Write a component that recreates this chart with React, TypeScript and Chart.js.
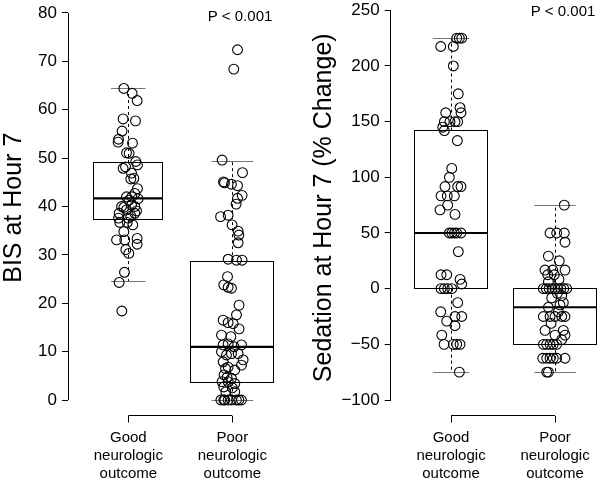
import React, { useEffect, useRef } from "react";
import { Chart, registerables } from "chart.js";
Chart.register(...registerables);

const FONT = "'Liberation Sans', Arial, Helvetica, sans-serif";

const categories = [
  ["Good", "neurologic", "outcome"],
  ["Poor", "neurologic", "outcome"],
];
const pValueText = "P < 0.001";

const bisTitle = "BIS at Hour 7";
const sedTitle = "Sedation at Hour 7 (% Change)";
const bisTicks = [0, 10, 20, 30, 40, 50, 60, 70, 80];
const sedTicks = [-100, -50, 0, 50, 100, 150, 200, 250];

// BIS, good outcome
const bisGoodValues = [64.4, 63.4, 61.9, 58.1, 57.7, 55.6, 53.9, 53.3, 53.1, 51.1, 51.0, 49.3, 48.6, 48.2, 47.9, 46.9, 45.7, 45.8, 43.7, 42.7, 42.0, 42.0, 41.6, 41.3, 40.0, 40.3, 40.0, 39.8, 38.6, 39.3, 39.1, 38.0, 37.6, 36.7, 37.6, 38.6, 36.7, 36.2, 34.8, 33.1, 33.1, 33.4, 32.2, 31.1, 30.3, 26.4, 24.3, 18.4];
const bisGoodJitter = [-0.043, 0.037, 0.085, -0.05, 0.069, -0.06, -0.094, -0.098, 0.04, -0.017, 0.008, 0.072, 0.088, -0.027, -0.05, 0.031, 0.024, 0.053, 0.088, 0.062, -0.017, 0.034, 0.094, 0.008, -0.065, 0.031, 0.062, -0.043, -0.088, -0.017, 0.079, 0.024, -0.094, -0.082, 0, 0.062, -0.01, 0.043, -0.043, -0.113, -0.034, 0.085, 0.085, -0.024, 0.005, -0.037, -0.088, -0.062];
// BIS, poor outcome
const bisPoorValues = [72.4, 68.4, 49.6, 47.0, 45.1, 44.9, 44.6, 44.3, 42.3, 41.7, 40.5, 37.9, 38.2, 36.2, 34.9, 34.1, 32.5, 29.1, 28.9, 28.9, 25.5, 23.8, 23.3, 23.1, 19.6, 17.6, 16.5, 16.0, 15.8, 14.7, 13.4, 13.1, 11.4, 11.6, 11.0, 11.4, 10.0, 9.3, 9.6, 9.6, 8.3, 7.2, 7.9, 6.5, 6.8, 6.2, 5.2, 4.7, 4.5, 3.8, 3.8, 3.4, 2.7, 2.5, 1.7, 1.7, 0, 0, 0, 0, 0, 0, 0, 0];
const bisPoorJitter = [0.05, 0.014, -0.098, 0.098, -0.085, -0.075, -0.008, 0.05, 0.094, 0.05, 0.037, -0.113, -0.04, -0.002, 0.056, 0.063, 0.056, -0.04, 0.04, 0.094, -0.046, -0.082, -0.04, -0.008, 0.065, 0.04, -0.088, -0.04, 0.008, 0.065, -0.104, -0.014, -0.088, -0.04, 0.017, 0.088, -0.104, -0.056, -0.008, 0.056, 0.104, 0.088, -0.088, -0.065, -0.04, 0.024, -0.079, -0.05, -0.008, -0.098, -0.04, 0.024, -0.082, 0, -0.062, 0.024, -0.11, -0.072, -0.04, -0.008, 0.04, 0.088, 0.063, -0.082];

// BIS box statistics [good, poor]
const bisWhiskerLow = [24.4, 0];
const bisQ1 = [37.4, 3.6];
const bisMedian = [41.7, 11.0];
const bisQ3 = [49.0, 28.7];
const bisWhiskerHigh = [64.4, 49.3];

// Sedation, good outcome
const sedGoodValues = [225, 225, 225, 217.5, 217.5, 200, 175, 162.5, 158, 158, 150, 150, 150, 150, 145, 142, 133, 108, 100, 91.7, 91.7, 91.7, 83.3, 83.3, 83.3, 75, 70.8, 66.7, 50, 50, 50, 50, 50, 33.3, 12.5, 12.5, 8.3, 4.2, 0, 0, 0, 0, -12.5, -20.8, -25, -25, -29.2, -33.3, -41.7, -50, -50, -50, -50, -75];
const sedGoodJitter = [0.055, 0.08, 0.103, -0.099, 0.022, 0.022, 0.07, 0.087, 0.096, -0.051, -0.064, -0.01, 0.038, 0.064, -0.08, -0.064, 0.061, 0.007, -0.016, -0.058, 0.064, 0.096, -0.096, -0.036, 0.032, -0.032, -0.106, 0.038, -0.016, 0.007, 0.032, 0.055, 0.096, 0.07, -0.096, -0.041, 0.087, 0.103, -0.096, -0.064, -0.032, 0.007, 0.064, -0.099, 0.038, 0.103, -0.041, 0.038, -0.089, -0.067, 0.022, 0.055, 0.087, 0.08];
// Sedation, poor outcome
const sedPoorValues = [75, 50, 50, 50, 41.7, 29.2, 25, 16.7, 16.7, 16.7, 12.5, 12.5, 8.3, 6.2, 0, 0, 0, 0, 0, 0, 0, 0, 0, -4.2, -8.3, -6.2, -12.5, -16.7, -14.6, -20.8, -25, -25, -25, -25, -25, -31.2, -37.5, -37.5, -41.7, -41.7, -45.8, -50, -50, -50, -50, -50, -62.5, -62.5, -62.5, -62.5, -62.5, -62.5, -75, -75];
const sedPoorJitter = [0.089, -0.048, 0.016, 0.089, 0.096, -0.064, 0.041, -0.096, -0.022, 0.096, -0.07, -0.007, 0.038, -0.064, -0.112, -0.084, -0.056, -0.028, 0, 0.028, 0.056, 0.084, 0.112, 0.022, -0.032, 0.064, 0.08, -0.064, 0.048, 0.032, -0.112, -0.048, 0, 0.064, 0.096, -0.038, -0.096, 0.08, 0.096, 0, 0.064, -0.112, -0.08, -0.048, -0.016, 0.016, -0.118, -0.08, -0.048, -0.016, 0.016, 0.096, -0.08, -0.064];

// Sedation box statistics [good, poor]
const sedWhiskerLow = [-75, -75];
const sedQ1 = [0, -50];
const sedMedian = [50, -16.7];
const sedQ3 = [142, 0];
const sedWhiskerHigh = [225, 75];

type Stats = { lo: number[]; q1: number[]; med: number[]; q3: number[]; hi: number[] };

type PanelCfg = {
  title: string;
  ticks: number[];
  groups: { values: number[]; jitter: number[] }[];
  stats: Stats;
  halfWidths: number[];
  yMin: number;
  yMax: number;
  xMin: number;
  xMax: number;
  axisWidth: number;
  titlePad: number;
  pPos: { x: number; y: number };
};

const crisp = (p: number) => Math.round(p - 0.5) + 0.5;

function makePlugin(cfg: PanelCfg) {
  return {
    id: "boxplotDecor",
    beforeDatasetsDraw(chart: any) {
      const { ctx, scales } = chart;
      const x = scales.x;
      const y = scales.y;
      const s = cfg.stats;
      ctx.save();
      for (let i = 0; i < 2; i++) {
        const g = i + 1;
        const cx = x.getPixelForValue(g);
        const hw = x.getPixelForValue(g + cfg.halfWidths[i]) - cx;
        const cxc = crisp(cx);
        // dashed whiskers
        ctx.strokeStyle = "#000";
        ctx.lineWidth = 1;
        ctx.setLineDash([3, 3]);
        ctx.beginPath();
        ctx.moveTo(cxc, y.getPixelForValue(s.q3[i]));
        ctx.lineTo(cxc, y.getPixelForValue(s.hi[i]));
        ctx.moveTo(cxc, y.getPixelForValue(s.q1[i]));
        ctx.lineTo(cxc, y.getPixelForValue(s.lo[i]));
        ctx.stroke();
        ctx.setLineDash([]);
        // staples
        ctx.strokeStyle = "#777";
        ctx.beginPath();
        [s.hi[i], s.lo[i]].forEach((v) => {
          const py = crisp(y.getPixelForValue(v));
          ctx.moveTo(cx - hw / 2, py);
          ctx.lineTo(cx + hw / 2, py);
        });
        ctx.stroke();
        // box
        ctx.strokeStyle = "#000";
        ctx.lineWidth = 1;
        const top = crisp(y.getPixelForValue(s.q3[i]));
        const bot = crisp(y.getPixelForValue(s.q1[i]));
        const l = crisp(cx - hw);
        const r = crisp(cx + hw);
        ctx.strokeRect(l, top, r - l, bot - top);
        // median
        ctx.lineWidth = 2.2;
        const my = y.getPixelForValue(s.med[i]);
        ctx.beginPath();
        ctx.moveTo(l, my);
        ctx.lineTo(r, my);
        ctx.stroke();
      }
      ctx.restore();
    },
    afterDraw(chart: any) {
      const { ctx, scales, chartArea } = chart;
      const x = scales.x;
      const y = scales.y;
      ctx.save();
      ctx.strokeStyle = "#000";
      ctx.lineWidth = 1;
      // y axis line from first to last tick
      const ax = crisp(chartArea.left);
      ctx.beginPath();
      ctx.moveTo(ax, y.getPixelForValue(cfg.ticks[0]));
      ctx.lineTo(ax, y.getPixelForValue(cfg.ticks[cfg.ticks.length - 1]));
      ctx.stroke();
      // x axis bracket line between categories
      const by = crisp(chartArea.bottom);
      ctx.beginPath();
      ctx.moveTo(x.getPixelForValue(1), by);
      ctx.lineTo(x.getPixelForValue(2), by);
      ctx.stroke();
      // p value
      ctx.fillStyle = "#000";
      ctx.font = `15px ${FONT}`;
      ctx.textAlign = "center";
      ctx.textBaseline = "middle";
      ctx.fillText(pValueText, cfg.pPos.x, cfg.pPos.y);
      ctx.restore();
    },
  };
}

function Panel({ cfg }: { cfg: PanelCfg }) {
  const ref = useRef<HTMLCanvasElement | null>(null);
  useEffect(() => {
    if (!ref.current) return;
    const datasets = cfg.groups.map((grp, gi) => ({
      data: grp.values.map((v, k) => ({ x: gi + 1 + grp.jitter[k], y: v })),
      backgroundColor: "rgba(0,0,0,0)",
      borderColor: "#000",
      borderWidth: 1.1,
      pointRadius: 4.9,
      pointHoverRadius: 4.9,
      pointStyle: "circle",
    }));
    const chart = new Chart(ref.current, {
      type: "scatter",
      data: { datasets },
      options: {
        animation: false,
        responsive: false,
        events: [],
        layout: { padding: 0, autoPadding: false } as any,
        plugins: { legend: { display: false }, tooltip: { enabled: false }, title: { display: false } },
        scales: {
          x: {
            type: "linear",
            min: cfg.xMin,
            max: cfg.xMax,
            border: { display: false },
            grid: { drawOnChartArea: false, drawTicks: true, tickLength: 7, color: "#000", lineWidth: 1 },
            afterBuildTicks: (scale: any) => {
              scale.ticks = [{ value: 1 }, { value: 2 }];
            },
            ticks: {
              color: "#000",
              padding: 6,
              maxRotation: 0,
              autoSkip: false,
              font: { family: FONT, size: 15, lineHeight: 1.2 },
              callback: (v: any) => categories[Math.round(Number(v)) - 1] || "",
            },
            afterFit: (scale: any) => {
              scale.height = 66.5;
              scale.paddingLeft = 0;
              scale.paddingRight = 0;
            },
          },
          y: {
            type: "linear",
            min: cfg.yMin,
            max: cfg.yMax,
            border: { display: false },
            grid: { drawOnChartArea: false, drawTicks: true, tickLength: 6, color: "#000", lineWidth: 1 },
            afterBuildTicks: (scale: any) => {
              scale.ticks = cfg.ticks.map((v) => ({ value: v }));
            },
            ticks: {
              color: "#000",
              padding: 5,
              autoSkip: false,
              font: { family: FONT, size: 17 },
              callback: (v: any) => (Number(v) < 0 ? "\u2212" + Math.abs(Number(v)) : String(v)),
            },
            title: {
              display: true,
              text: cfg.title,
              color: "#000",
              font: { family: FONT, size: 25, lineHeight: 1.15 },
              padding: { top: cfg.titlePad, bottom: 0 },
            },
            afterFit: (scale: any) => {
              scale.width = cfg.axisWidth;
              scale.paddingTop = 0;
              scale.paddingBottom = 0;
            },
          },
        },
      } as any,
      plugins: [makePlugin(cfg)],
    });
    return () => chart.destroy();
  }, [cfg]);
  return <canvas ref={ref} width={300} height={482} style={{ display: "block", width: 300, height: 482 }} />;
}

const bisCfg: PanelCfg = {
  title: bisTitle,
  ticks: bisTicks,
  groups: [
    { values: bisGoodValues, jitter: bisGoodJitter },
    { values: bisPoorValues, jitter: bisPoorJitter },
  ],
  stats: { lo: bisWhiskerLow, q1: bisQ1, med: bisMedian, q3: bisQ3, hi: bisWhiskerHigh },
  halfWidths: [0.332, 0.4],
  yMin: -3.204,
  yMax: 82.687,
  xMin: 0.42,
  xMax: 2.651,
  axisWidth: 68,
  titlePad: 0,
  pPos: { x: 240, y: 17 },
};

const sedCfg: PanelCfg = {
  title: sedTitle,
  ticks: sedTicks,
  groups: [
    { values: sedGoodValues, jitter: sedGoodJitter },
    { values: sedPoorValues, jitter: sedPoorJitter },
  ],
  stats: { lo: sedWhiskerLow, q1: sedQ1, med: sedMedian, q3: sedQ3, hi: sedWhiskerHigh },
  halfWidths: [0.35, 0.4],
  yMin: -113.92,
  yMax: 259.25,
  xMin: 0.42,
  xMax: 2.4325,
  axisWidth: 90.7,
  titlePad: 10,
  pPos: { x: 263, y: 12 },
};

export default function App() {
  return (
    <div style={{ position: "absolute", left: 0, top: 0, width: 600, height: 482, display: "flex", background: "#fff", overflow: "hidden" }}>
      <Panel cfg={bisCfg} />
      <Panel cfg={sedCfg} />
    </div>
  );
}
